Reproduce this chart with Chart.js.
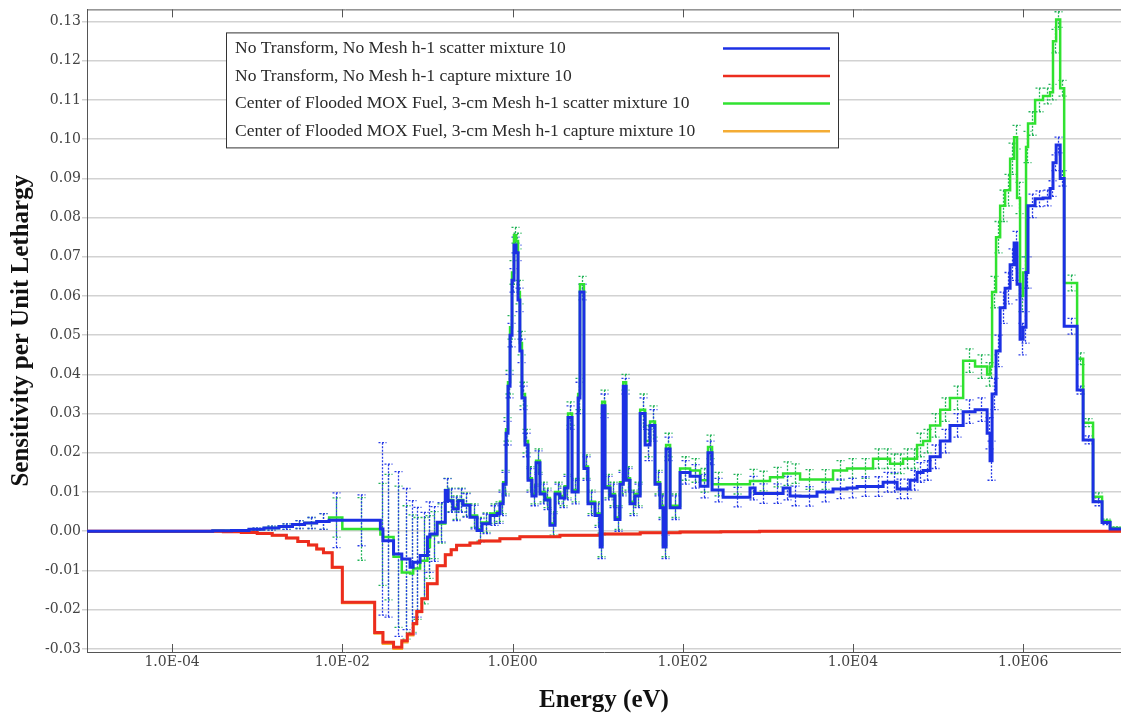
<!DOCTYPE html>
<html>
<head>
<meta charset="utf-8">
<script src="https://cdn.jsdelivr.net/npm/chart.js@4.4.1/dist/chart.umd.min.js"></script>
<style>
  html, body { margin: 0; padding: 0; background: #fff; }
  #wrap { width: 1121px; height: 716px; position: relative; }
</style>
</head>
<body>
<div id="wrap"><canvas id="sensChart"></canvas></div>
<script>
// group lower edges (eV) for the scatter profiles, last entry is the upper edge of the last group
const scatterEnergy = [
  1.0e-5, 3.0e-4, 5.0e-4, 8.0e-4, 1.2e-3, 1.8e-3, 2.6e-3, 3.6e-3, 5.0e-3, 7.0e-3,
  1.0e-2, 2.8e-2, 3.0e-2, 4.0e-2, 5.0e-2, 6.25e-2, 6.8e-2, 8.2e-2, 0.1, 0.107,
  0.13, 0.162, 0.175, 0.2, 0.23, 0.262, 0.316, 0.383, 0.438, 0.545,
  0.658, 0.713, 0.776, 0.84, 0.885, 0.935, 0.986, 1.04, 1.10, 1.16,
  1.22, 1.29, 1.40, 1.52, 1.69, 1.89, 2.10, 2.41, 2.75, 3.16,
  3.61, 4.14, 4.49, 5.0, 5.9, 6.2, 6.9, 7.7, 9.3, 10.7,
  11.3, 12.2, 14.0, 16.0, 18.3, 20.0, 21.6, 24.0, 27.5, 31.6,
  36.1, 41.3, 47.2, 54.1, 58.7, 63.7, 71.0, 93.0, 122, 160,
  198, 221, 298, 617, 708, 1060, 1510, 1820, 2390, 3780,
  5830, 8510, 1.12e4, 1.72e4, 2.26e4, 2.73e4, 3.30e4, 3.88e4, 4.68e4, 5.66e4,
  6.67e4, 8.05e4, 1.06e5, 1.38e5, 1.97e5, 2.72e5, 3.77e5, 4.08e5, 4.31e5, 4.80e5,
  5.36e5, 6.13e5, 7.02e5, 7.82e5, 8.47e5, 9.19e5, 9.98e5, 1.08e6, 1.14e6, 1.38e6,
  1.71e6, 2.07e6, 2.24e6, 2.44e6, 2.72e6, 3.03e6, 4.30e6, 5.06e6, 6.62e6, 8.45e6,
  1.05e7, 1.41e7
];

// No Transform, No Mesh - scatter
const blueScatter = [
  0, 0.0001, 0.0002, 0.0005, 0.0008, 0.0012, 0.0017, 0.0021, 0.0025, 0.0028,
  0.0028, 0.0006, -0.0024, -0.0058, -0.0071, -0.0092, -0.0079, -0.0062, -0.0015, -0.0007,
  0.0023, 0.0104, 0.0078, 0.0057, 0.0078, 0.0066, 0.0036, 0.0002, 0.0019, 0.004,
  0.0045, 0.007, 0.012, 0.025, 0.037, 0.050, 0.064, 0.073, 0.071, 0.059,
  0.046, 0.034, 0.022, 0.013, 0.009, 0.0175, 0.0095, 0.008, 0.0015, 0.0095,
  0.0085, 0.011, 0.029, 0.010, 0.034, 0.061, 0.016, 0.007, 0.004, -0.004,
  0.032, 0.011, 0.009, 0.003, 0.012, 0.037, 0.013, 0.007, 0.009, 0.030,
  0.022, 0.027, 0.012, 0.006, -0.004, 0.021, 0.006, 0.015, 0.014, 0.0115,
  0.020, 0.0105, 0.0087, 0.011, 0.0096, 0.0096, 0.011, 0.009, 0.0089, 0.010,
  0.0108, 0.011, 0.0114, 0.0114, 0.0125, 0.0125, 0.0108, 0.0108, 0.013, 0.015,
  0.0155, 0.019, 0.023, 0.027, 0.0305, 0.031, 0.025, 0.018, 0.035, 0.046,
  0.057, 0.062, 0.068, 0.0735, 0.063, 0.049, 0.052, 0.066, 0.083, 0.0848,
  0.085, 0.0874, 0.094, 0.0985, 0.090, 0.0523, 0.036, 0.0233, 0.0075, 0.0022,
  0.0006
];

// Center of Flooded MOX Fuel, 3-cm Mesh - scatter
const greenScatter = [
  0, 0.0001, 0.0002, 0.0005, 0.0008, 0.0012, 0.0017, 0.0021, 0.0025, 0.0035,
  0.0006, -0.0008, -0.0015, -0.0065, -0.0105, -0.0108, -0.0095, -0.0075, -0.004, -0.001,
  0.002, 0.0105, 0.008, 0.006, 0.008, 0.0068, 0.004, 0.0005, 0.0022, 0.0045,
  0.005, 0.0075, 0.0125, 0.026, 0.038, 0.052, 0.066, 0.0755, 0.074, 0.061,
  0.048, 0.035, 0.023, 0.0135, 0.0095, 0.018, 0.010, 0.0085, 0.002, 0.010,
  0.009, 0.0115, 0.030, 0.0105, 0.035, 0.063, 0.0165, 0.0075, 0.0045, -0.0035,
  0.033, 0.0115, 0.0095, 0.0035, 0.0125, 0.038, 0.0135, 0.0075, 0.0095, 0.031,
  0.023, 0.028, 0.0125, 0.0065, -0.0035, 0.022, 0.0065, 0.016, 0.0155, 0.013,
  0.0215, 0.012, 0.012, 0.0128, 0.0128, 0.0138, 0.0147, 0.0147, 0.0132, 0.0132,
  0.0155, 0.016, 0.016, 0.0185, 0.0185, 0.0172, 0.0172, 0.0185, 0.0185, 0.022,
  0.023, 0.027, 0.031, 0.034, 0.0435, 0.042, 0.040, 0.042, 0.061, 0.075,
  0.083, 0.087, 0.095, 0.1005, 0.085, 0.060, 0.066, 0.098, 0.104, 0.110,
  0.111, 0.112, 0.125, 0.1305, 0.113, 0.0633, 0.044, 0.0277, 0.0088, 0.0026,
  0.0008
];

// one standard deviation per group
const blueSigma = [
  0, 0, 0.0002, 0.0003, 0.0005, 0.0007, 0.001, 0.0014, 0.002, 0.007,
  0.0065, 0.022, 0.0195, 0.021, 0.018, 0.017, 0.014, 0.011, 0.009, 0.007,
  0.005, 0.003, 0.003, 0.003, 0.003, 0.003, 0.003, 0.003, 0.0025, 0.0025,
  0.0025, 0.003, 0.003, 0.003, 0.003, 0.003, 0.003, 0.002, 0.002, 0.003,
  0.003, 0.003, 0.003, 0.003, 0.0025, 0.003, 0.0025, 0.0025, 0.003, 0.0025,
  0.0025, 0.003, 0.003, 0.003, 0.004, 0.002, 0.003, 0.003, 0.003, 0.003,
  0.003, 0.003, 0.003, 0.003, 0.003, 0.002, 0.003, 0.003, 0.003, 0.004,
  0.004, 0.004, 0.003, 0.003, 0.003, 0.003, 0.003, 0.003, 0.003, 0.003,
  0.003, 0.003, 0.0025, 0.003, 0.0025, 0.0025, 0.003, 0.0025, 0.0025, 0.0025,
  0.0025, 0.0025, 0.0025, 0.0025, 0.0025, 0.0025, 0.0025, 0.0025, 0.0025, 0.0025,
  0.0025, 0.003, 0.003, 0.003, 0.003, 0.003, 0.004, 0.005, 0.004, 0.004,
  0.004, 0.004, 0.004, 0.003, 0.004, 0.004, 0.004, 0.004, 0.003, 0.002,
  0.002, 0.002, 0.002, 0.002, 0.002, 0.002, 0.001, 0.001, 0.001, 0.0005,
  0.0003
];

const greenSigma = [
  0, 0, 0.0002, 0.0003, 0.0005, 0.0007, 0.001, 0.0014, 0.002, 0.005,
  0.008, 0.013, 0.016, 0.018, 0.017, 0.015, 0.013, 0.011, 0.008, 0.006,
  0.005, 0.003, 0.003, 0.003, 0.003, 0.003, 0.003, 0.003, 0.0025, 0.0025,
  0.0025, 0.003, 0.003, 0.003, 0.003, 0.003, 0.003, 0.002, 0.002, 0.003,
  0.003, 0.003, 0.003, 0.003, 0.0025, 0.003, 0.0025, 0.0025, 0.003, 0.0025,
  0.0025, 0.003, 0.003, 0.003, 0.004, 0.002, 0.003, 0.003, 0.003, 0.003,
  0.003, 0.003, 0.003, 0.003, 0.003, 0.002, 0.003, 0.003, 0.003, 0.004,
  0.004, 0.004, 0.003, 0.003, 0.003, 0.003, 0.003, 0.003, 0.003, 0.003,
  0.003, 0.003, 0.0025, 0.003, 0.0025, 0.0025, 0.003, 0.0025, 0.0025, 0.0025,
  0.0025, 0.0025, 0.0025, 0.0025, 0.0025, 0.0025, 0.0025, 0.0025, 0.0025, 0.003,
  0.003, 0.003, 0.003, 0.003, 0.003, 0.003, 0.003, 0.003, 0.004, 0.004,
  0.004, 0.004, 0.004, 0.003, 0.004, 0.004, 0.004, 0.004, 0.003, 0.003,
  0.002, 0.002, 0.003, 0.002, 0.002, 0.002, 0.0015, 0.001, 0.001, 0.0005,
  0.0003
];

// capture profiles, coarser grid (eV)
const captureEnergy = [
  1.0e-5, 4.0e-4, 6.5e-4, 1.0e-3, 1.5e-3, 2.2e-3, 3.0e-3, 4.0e-3, 5.0e-3, 6.0e-3,
  7.6e-3, 1.0e-2, 2.4e-2, 3.0e-2, 4.0e-2, 5.0e-2, 5.8e-2, 6.8e-2, 7.5e-2, 8.6e-2,
  0.1, 0.13, 0.162, 0.19, 0.22, 0.316, 0.41, 0.71, 1.22, 3.6,
  10.7, 31.6, 93, 280, 800, 1.41e7
];

const redCapture = [
  0, -0.0001, -0.0003, -0.0006, -0.001, -0.0017, -0.0026, -0.0035, -0.0045, -0.0055,
  -0.0092, -0.0181, -0.0258, -0.0283, -0.0296, -0.0279, -0.0262, -0.0235, -0.0205, -0.0172,
  -0.0134, -0.0088, -0.006, -0.0047, -0.0036, -0.003, -0.0025, -0.0019, -0.0014, -0.001,
  -0.0007, -0.0004, -0.0002, -0.0001, 0
];

const orangeCapture = [
  0, -0.0001, -0.0003, -0.0006, -0.001, -0.0017, -0.0026, -0.0035, -0.0045, -0.0055,
  -0.0093, -0.0183, -0.0261, -0.0287, -0.0300, -0.0283, -0.0265, -0.0237, -0.0206, -0.0172,
  -0.0134, -0.0088, -0.006, -0.0047, -0.0036, -0.003, -0.0025, -0.0019, -0.0014, -0.001,
  -0.0007, -0.0004, -0.0002, -0.0001, 0
];

const xTickValues = [1e-4, 1e-2, 1, 1e2, 1e4, 1e6];
const xTickLabels = ['1.0E-04', '1.0E-02', '1.0E00', '1.0E02', '1.0E04', '1.0E06'];
const yTickValues = [-0.03, -0.02, -0.01, 0, 0.01, 0.02, 0.03, 0.04, 0.05, 0.06, 0.07, 0.08, 0.09, 0.10, 0.11, 0.12, 0.13];

const seriesNames = [
  'No Transform, No Mesh h-1 scatter mixture 10',
  'No Transform, No Mesh h-1 capture mixture 10',
  'Center of Flooded MOX Fuel, 3-cm Mesh h-1 scatter mixture 10',
  'Center of Flooded MOX Fuel, 3-cm Mesh h-1 capture mixture 10'
];

const colors = {
  blue: 'rgb(28, 48, 228)',
  red: 'rgb(236, 44, 30)',
  green: 'rgb(48, 226, 48)',
  orange: 'rgb(244, 172, 52)'
};

// stepped line: each value holds from its lower edge to the next edge
const toSteps = (edges, vals) =>
  edges.map((e, i) => ({ x: e, y: vals[Math.min(i, vals.length - 1)] }));

const serifFont = 'Liberation Serif, Times New Roman, serif';
const tickFont = { family: 'DejaVu Serif, serif', size: 14 };

// dotted error bars at the centre of each group
const errorBars = {
  id: 'errorBars',
  beforeDatasetsDraw(chart) {
    const { ctx, chartArea: a, scales: { x, y } } = chart;
    ctx.save();
    ctx.beginPath();
    ctx.rect(a.left, a.top, a.width, a.height);
    ctx.clip();
    ctx.lineWidth = 1.3;
    ctx.setLineDash([2, 1.5]);
    const sets = [
      [greenScatter, greenSigma, 'rgb(36, 180, 90)'],
      [blueScatter, blueSigma, 'rgb(40, 60, 230)']
    ];
    sets.forEach(([vals, sig, col]) => {
      ctx.strokeStyle = col;
      ctx.beginPath();
      for (let i = 0; i < vals.length; i++) {
        if (!sig[i]) continue;
        const xm = Math.round(x.getPixelForValue(Math.sqrt(scatterEnergy[i] * scatterEnergy[i + 1]))) + 0.5;
        const yTop = y.getPixelForValue(vals[i] + sig[i]);
        const yBot = y.getPixelForValue(vals[i] - sig[i]);
        ctx.moveTo(xm, yTop); ctx.lineTo(xm, yBot);
        ctx.moveTo(xm - 4, yTop); ctx.lineTo(xm + 4, yTop);
        ctx.moveTo(xm - 4, yBot); ctx.lineTo(xm + 4, yBot);
      }
      ctx.stroke();
    });
    ctx.restore();
  }
};

// top border and inward tick marks on top and bottom
const frame = {
  id: 'frame',
  afterDatasetsDraw(chart) {
    const { ctx, chartArea: a, scales: { x } } = chart;
    ctx.save();
    ctx.strokeStyle = '#555';
    ctx.lineWidth = 1;
    ctx.beginPath();
    ctx.moveTo(a.left, a.top + 0.5);
    ctx.lineTo(a.right, a.top + 0.5);
    xTickValues.forEach(v => {
      const px = Math.round(x.getPixelForValue(v)) + 0.5;
      ctx.moveTo(px, a.bottom);
      ctx.lineTo(px, a.bottom - 8);
      ctx.moveTo(px, a.top);
      ctx.lineTo(px, a.top + 8);
    });
    ctx.stroke();
    ctx.restore();
  }
};

// legend box: text on the left, line sample on the right
const boxLegend = {
  id: 'boxLegend',
  afterDraw(chart) {
    const { ctx, chartArea: a } = chart;
    const left = a.left + 139, top = a.top + 23, w = 612, h = 115;
    ctx.save();
    ctx.fillStyle = '#fff';
    ctx.fillRect(left, top, w, h);
    ctx.strokeStyle = '#333';
    ctx.lineWidth = 1;
    ctx.strokeRect(left + 0.5, top + 0.5, w, h);
    ctx.font = '17.5px ' + serifFont;
    ctx.textBaseline = 'middle';
    chart.data.datasets.forEach((ds, i) => {
      const rowY = top + 16 + i * 27.6;
      ctx.fillStyle = '#2a2a2a';
      ctx.fillText(ds.label, left + 9, rowY);
      ctx.strokeStyle = ds.borderColor;
      ctx.lineWidth = 2.5;
      ctx.beginPath();
      ctx.moveTo(left + 497, rowY);
      ctx.lineTo(left + 604, rowY);
      ctx.stroke();
    });
    ctx.restore();
  }
};

const lineDefaults = {
  stepped: true,
  pointRadius: 0,
  fill: false,
  borderJoinStyle: 'miter',
  borderCapStyle: 'butt'
};

const ctx = document.getElementById('sensChart').getContext('2d');
// eslint-disable-next-line no-undef
const sensChart = new Chart(ctx, {
  type: 'line',
  data: {
    datasets: [
      { ...lineDefaults, label: seriesNames[0], data: toSteps(scatterEnergy, blueScatter),
        borderColor: colors.blue, borderWidth: 3 },
      { ...lineDefaults, label: seriesNames[1], data: toSteps(captureEnergy, redCapture),
        borderColor: colors.red, borderWidth: 3 },
      { ...lineDefaults, label: seriesNames[2], data: toSteps(scatterEnergy, greenScatter),
        borderColor: colors.green, borderWidth: 2.5 },
      { ...lineDefaults, label: seriesNames[3], data: toSteps(captureEnergy, orangeCapture),
        borderColor: colors.orange, borderWidth: 2.5 }
    ]
  },
  options: {
    responsive: true,
    maintainAspectRatio: false,
    animation: false,
    devicePixelRatio: 1,
    layout: { padding: { top: 8, right: 0, left: 0, bottom: 0 } },
    plugins: {
      legend: { display: false },
      tooltip: { enabled: false }
    },
    scales: {
      x: {
        type: 'logarithmic',
        min: 1e-5,
        max: 1.41e7,
        afterBuildTicks: s => { s.ticks = xTickValues.map(v => ({ value: v })); },
        afterFit: s => { s.height = 64; },
        grid: { display: false, drawTicks: false },
        border: { display: true, color: '#555', width: 1 },
        ticks: {
          autoSkip: false, maxRotation: 0, padding: 2, color: '#444', font: tickFont,
          callback: (v, i) => xTickLabels[i]
        },
        title: {
          display: true, text: 'Energy (eV)', color: '#111',
          font: { family: serifFont, size: 25, weight: 'bold' },
          padding: { top: 0, bottom: 0 }
        }
      },
      y: {
        min: -0.0308,
        max: 0.1331,
        afterBuildTicks: s => { s.ticks = yTickValues.map(v => ({ value: v })); },
        afterFit: s => { s.width = 87; },
        grid: { color: '#d2d2d2', lineWidth: 1.5, tickLength: 5 },
        border: { display: true, color: '#555', width: 1 },
        ticks: {
          padding: 1, color: '#444', font: tickFont,
          callback: v => v.toFixed(2)
        },
        title: {
          display: true, text: 'Sensitivity per Unit Lethargy', color: '#111',
          font: { family: serifFont, size: 25, weight: 'bold' },
          padding: { top: 7, bottom: 0 }
        }
      }
    }
  },
  plugins: [errorBars, frame, boxLegend]
});
</script>
</body>
</html>
